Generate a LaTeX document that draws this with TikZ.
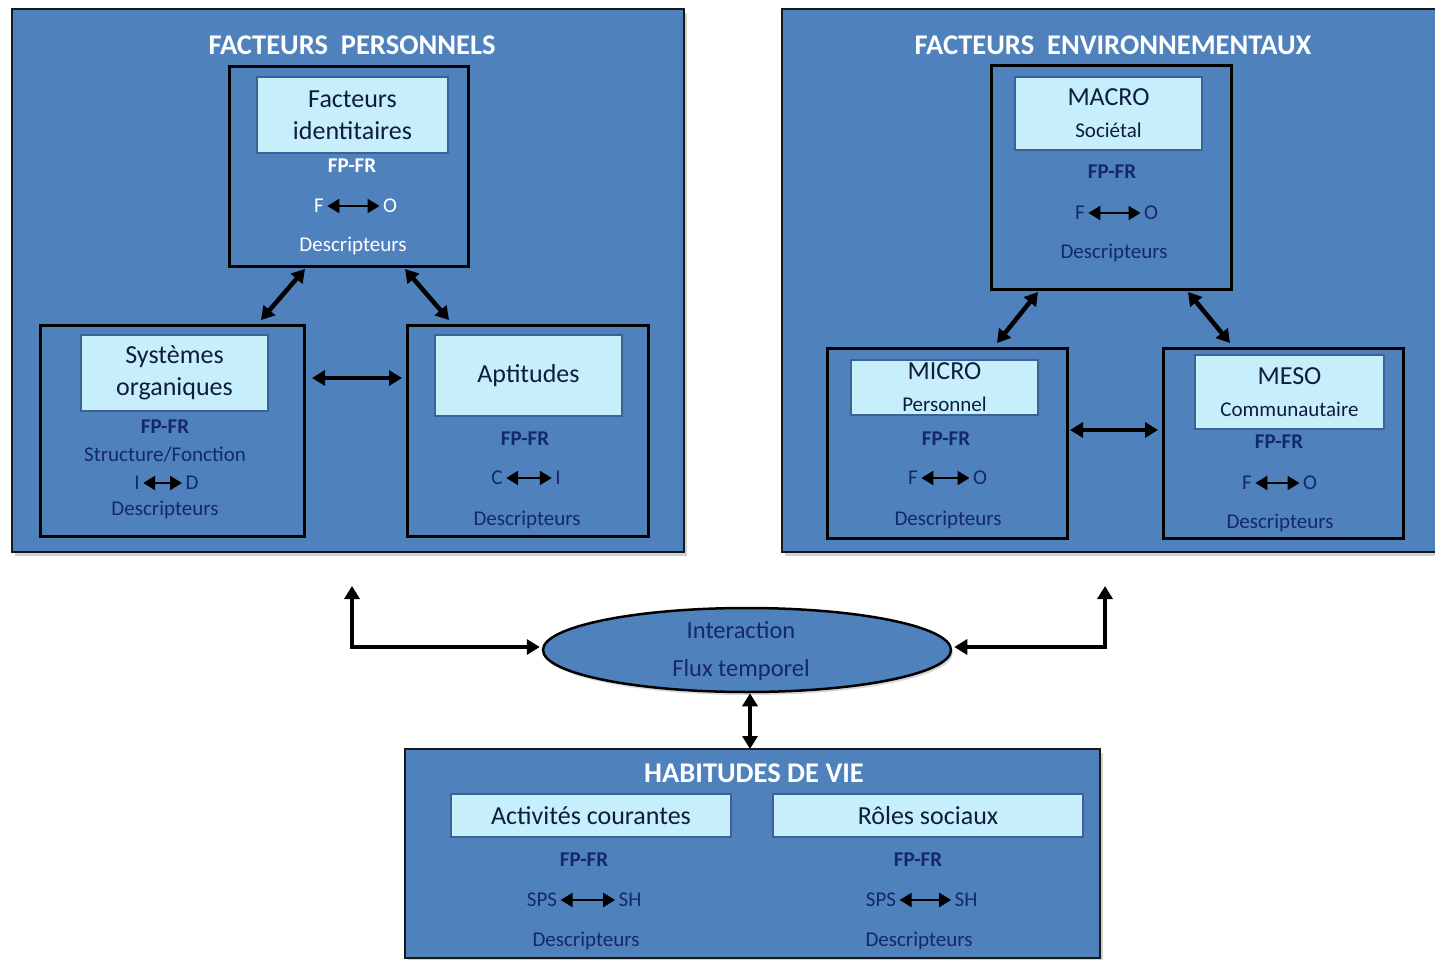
\documentclass[tikz,border=0pt]{standalone}
\usepackage{fontspec}
\setmainfont{Carlito}
\usetikzlibrary{arrows.meta,shapes.geometric,shadows}
\definecolor{boxblue}{RGB}{79,129,189}
\definecolor{lightcyan}{RGB}{198,239,251}
\definecolor{navy}{RGB}{20,40,108}
\definecolor{darknavy}{RGB}{14,28,62}
\definecolor{innerborder}{RGB}{58,98,150}
\newcommand{\rbox}[7]{% style, name, x1,y1,x2,y2, text
  \pgfmathsetmacro{\rbw}{#5-#3}\pgfmathsetmacro{\rbh}{#6-#4}%
  \pgfmathsetmacro{\rbx}{(#3+#5)/2}\pgfmathsetmacro{\rby}{(#4+#6)/2}%
  \node[#1,minimum width=\rbw pt,minimum height=\rbh pt,inner sep=0pt,outer sep=0pt] (#2) at (\rbx,\rby) {#7};}
\begin{document}
\begin{tikzpicture}[x=1pt,y=-1pt,
  bigbox/.style={draw=black!90,line width=2.5pt,fill=boxblue,
    drop shadow={shadow xshift=3pt,shadow yshift=-4pt,opacity=0.35}},
  subbox/.style={draw=black,line width=3pt},
  lightbox/.style={draw=innerborder,line width=1.5pt,fill=lightcyan,text=darknavy,align=center,
    font=\fontsize{26}{32}\selectfont},
  bigtitle/.style={text=white,font=\fontsize{28.5}{32}\selectfont\bfseries},
  wtxt/.style={text=white,font=\fontsize{21}{24}\selectfont},
  wbold/.style={text=white,font=\fontsize{21}{24}\selectfont\bfseries},
  ntxt/.style={text=navy,font=\fontsize{21}{24}\selectfont},
  nbold/.style={text=navy,font=\fontsize{21}{24}\selectfont\bfseries},
  etxt/.style={text=navy,font=\fontsize{24.5}{28}\selectfont},
  bigarr/.style={{Triangle[length=13pt,width=15pt]}-{Triangle[length=13pt,width=15pt]},line width=4.5pt,black,line join=miter},
  smallarr/.style={{Triangle[length=12pt,width=14pt]}-{Triangle[length=12pt,width=14pt]},line width=2.2pt,black}
]
\clip (0,0) rectangle (1435,960);
\fill[white] (0,0) rectangle (1435,960);

% ---------------- Facteurs personnels ----------------
\rbox{bigbox}{fp}{12}{9}{684}{552}{}
\node[bigtitle] (fpT) at (352,45) {FACTEURS\ \ PERSONNELS};

\rbox{subbox}{fi}{229}{67}{468}{266}{}
\rbox{lightbox}{fiL}{257}{77}{448}{153}{Facteurs\\identitaires}
\node[wbold] (fiA) at (352,166) {FP-FR};
\node[wtxt] (fiF) at (319,206) {F};
\node[wtxt] (fiO) at (390,206) {O};
\draw[smallarr] (fiF.east) -- (fiO.west);
\node[wtxt] (fiD) at (353,246) {Descripteurs};

\rbox{subbox}{sys}{40}{325}{304}{536}{}
\rbox{lightbox}{sysL}{81}{335}{268}{411}{Systèmes\\organiques}
\node[nbold] (sysA) at (165,427) {FP-FR};
\node[ntxt] (sysS) at (165,455) {Structure/Fonction};
\node[ntxt] (sysI) at (137,483) {I};
\node[ntxt] (sysDd) at (192,483) {D};
\draw[smallarr] (sysI.east) -- (sysDd.west);
\node[ntxt] (sysD) at (165,510) {Descripteurs};

\rbox{subbox}{apt}{407}{325}{648}{536}{}
\rbox{lightbox}{aptL}{435}{335}{622}{416}{Aptitudes}
\node[nbold] (aptA) at (525,439) {FP-FR};
\node[ntxt] (aptC) at (497,478) {C};
\node[ntxt] (aptI) at (558,478) {I};
\draw[smallarr] (aptC.east) -- (aptI.west);
\node[ntxt] (aptD) at (527,520) {Descripteurs};

\draw[bigarr] ([xshift=-43.5pt,yshift=-3pt]fi.south) -- ([xshift=89pt,yshift=5pt]sys.north);
\draw[bigarr] ([xshift=56.5pt,yshift=-3pt]fi.south) -- ([xshift=-78.5pt,yshift=5pt]apt.north);
\draw[bigarr] ([xshift=8pt,yshift=52.5pt]sys.east) -- ([xshift=-5pt,yshift=52.5pt]apt.west);

% ---------------- Facteurs environnementaux ----------------
\rbox{bigbox}{fe}{782}{9}{1450}{552}{}
\node[bigtitle] (feT) at (1113,45) {FACTEURS\ \ ENVIRONNEMENTAUX};

\rbox{subbox}{mac}{991}{66}{1231}{289}{}
\rbox{lightbox}{macL}{1015}{77}{1202}{150}{MACRO\\\fontsize{21}{29}\selectfont Sociétal}
\node[nbold] (macA) at (1112,172) {FP-FR};
\node[ntxt] (macF) at (1080,213) {F};
\node[ntxt] (macO) at (1151,213) {O};
\draw[smallarr] (macF.east) -- (macO.west);
\node[ntxt] (macD) at (1114,253) {Descripteurs};

\rbox{subbox}{mic}{827}{348}{1067}{538}{}
\rbox{lightbox}{micL}{851}{360}{1038}{415}{MICRO\\\fontsize{21}{28}\selectfont Personnel}
\node[nbold] (micA) at (946,439) {FP-FR};
\node[ntxt] (micF) at (913,478) {F};
\node[ntxt] (micO) at (980,478) {O};
\draw[smallarr] (micF.east) -- (micO.west);
\node[ntxt] (micD) at (948,520) {Descripteurs};

\rbox{subbox}{mes}{1163}{348}{1403}{538}{}
\rbox{lightbox}{mesL}{1195}{355}{1384}{429}{MESO\\\fontsize{21}{29}\selectfont Communautaire}
\node[nbold] (mesA) at (1279,442) {FP-FR};
\node[ntxt] (mesF) at (1247,483) {F};
\node[ntxt] (mesO) at (1310,483) {O};
\draw[smallarr] (mesF.east) -- (mesO.west);
\node[ntxt] (mesD) at (1280,523) {Descripteurs};

\draw[bigarr] ([xshift=-73pt,yshift=-3pt]mac.south) -- ([xshift=50pt,yshift=5pt]mic.north);
\draw[bigarr] ([xshift=77pt,yshift=-3pt]mac.south) -- ([xshift=-53pt,yshift=5pt]mes.north);
\draw[bigarr] ([xshift=3pt,yshift=13pt]mic.east) -- ([xshift=-5pt,yshift=13pt]mes.west);

% ---------------- Interaction ----------------
\node[ellipse,draw=black,line width=2.5pt,fill=boxblue,minimum width=408pt,minimum height=84pt,
  drop shadow={shadow xshift=2pt,shadow yshift=-3pt,opacity=0.3}] (ell) at (747,650) {};
\node[etxt] (ellT1) at (741,630) {Interaction};
\node[etxt] (ellT2) at (741,670) {Flux temporel};

\coordinate (lt) at (352,586);
\coordinate (rt) at (1105,586);
\draw[bigarr] (lt) |- ([xshift=-2pt,yshift=3pt]ell.west);
\draw[bigarr] (rt) |- ([xshift=2pt,yshift=3pt]ell.east);

% ---------------- Habitudes de vie ----------------
\rbox{bigbox}{hab}{405}{749}{1100}{958}{}
\node[bigtitle] (habT) at (754,773) {HABITUDES DE VIE};
\rbox{lightbox}{actL}{451}{794}{731}{837}{Activités courantes}
\rbox{lightbox}{rolL}{773}{794}{1083}{837}{Rôles sociaux}
\node[nbold] (actA) at (584,860) {FP-FR};
\node[ntxt] (actS) at (542,900) {SPS};
\node[ntxt] (actH) at (630,900) {SH};
\draw[smallarr] (actS.east) -- (actH.west);
\node[ntxt] (actD) at (586,941) {Descripteurs};
\node[nbold] (rolA) at (918,860) {FP-FR};
\node[ntxt] (rolS) at (881,900) {SPS};
\node[ntxt] (rolH) at (966,900) {SH};
\draw[smallarr] (rolS.east) -- (rolH.west);
\node[ntxt] (rolD) at (919,941) {Descripteurs};

\draw[bigarr] ([xshift=3pt]ell.south) -- ([xshift=3pt]ell.south |- hab.north);
\end{tikzpicture}
\end{document}
